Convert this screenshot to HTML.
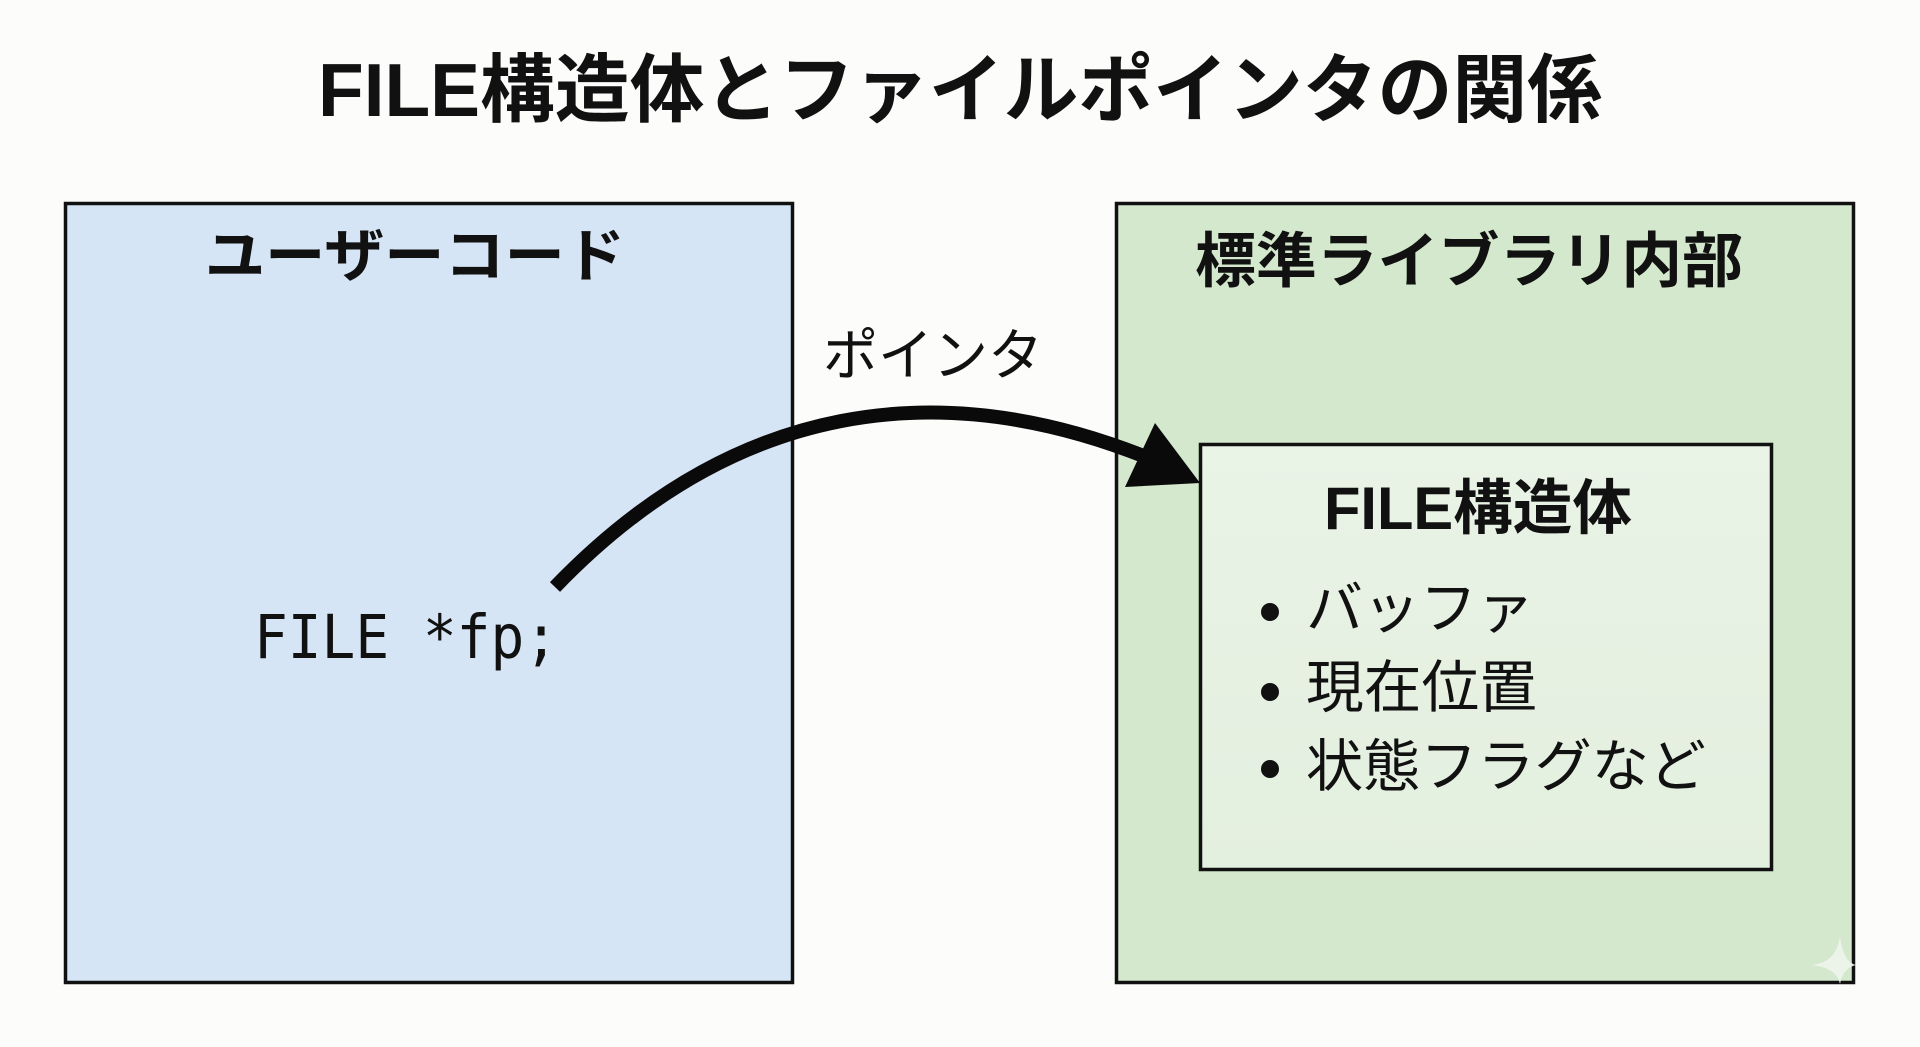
<!DOCTYPE html>
<html>
<head>
<meta charset="utf-8">
<style>
html,body{margin:0;padding:0;background:#fcfcfb;}
svg{display:block;}
</style>
</head>
<body>
<svg width="1920" height="1047" viewBox="0 0 1920 1047" xmlns="http://www.w3.org/2000/svg">
  <defs>
    <linearGradient id="gin" x1="0" y1="0" x2="0" y2="1">
      <stop offset="0" stop-color="#e9f3e6"/>
      <stop offset="1" stop-color="#e3efdf"/>
    </linearGradient>
  </defs>
  <rect x="0" y="0" width="1920" height="1047" fill="#fcfcfb"/>

  <!-- Title -->
  <text x="318" y="116" font-family="'Liberation Sans','Noto Sans CJK JP',sans-serif" font-weight="700" font-size="75" fill="#111" textLength="1284" lengthAdjust="spacingAndGlyphs">FILE構造体とファイルポインタの関係</text>

  <!-- Left box -->
  <rect x="65.5" y="203.5" width="727" height="779" fill="#d6e5f5" stroke="#111" stroke-width="3.5"/>
  <text x="205" y="276" font-family="'Liberation Sans','Noto Sans CJK JP',sans-serif" font-weight="700" font-size="58" fill="#111" textLength="420" lengthAdjust="spacingAndGlyphs">ユーザーコード</text>
  <text x="254" y="658" font-family="'DejaVu Sans Mono','Liberation Mono',monospace" font-size="61" fill="#111" textLength="304" lengthAdjust="spacingAndGlyphs">FILE *fp;</text>

  <!-- Right box -->
  <rect x="1116.5" y="203.5" width="737" height="779" fill="#d3e8cc" stroke="#111" stroke-width="3.5"/>
  <text x="1195" y="282" font-family="'Liberation Sans','Noto Sans CJK JP',sans-serif" font-weight="700" font-size="60" fill="#111" textLength="548" lengthAdjust="spacingAndGlyphs">標準ライブラリ内部</text>

  <!-- Inner box -->
  <rect x="1200.5" y="444.5" width="571" height="425" fill="url(#gin)" stroke="#111" stroke-width="3.5"/>
  <text x="1324" y="529" font-family="'Liberation Sans','Noto Sans CJK JP',sans-serif" font-weight="700" font-size="60" fill="#111" textLength="308" lengthAdjust="spacingAndGlyphs">FILE構造体</text>

  <circle cx="1270" cy="612" r="9" fill="#111"/>
  <circle cx="1270" cy="692" r="9" fill="#111"/>
  <circle cx="1270" cy="769" r="9" fill="#111"/>
  <text x="1306" y="628" font-family="'Liberation Sans','Noto Sans CJK JP',sans-serif" font-size="57" fill="#111" textLength="228" lengthAdjust="spacingAndGlyphs">バッファ</text>
  <text x="1306" y="707" font-family="'Liberation Sans','Noto Sans CJK JP',sans-serif" font-size="57" fill="#111" textLength="231" lengthAdjust="spacingAndGlyphs">現在位置</text>
  <text x="1306" y="786" font-family="'Liberation Sans','Noto Sans CJK JP',sans-serif" font-size="57" fill="#111" textLength="400" lengthAdjust="spacingAndGlyphs">状態フラグなど</text>

  <!-- Arrow label -->
  <text x="823" y="375" font-family="'Liberation Sans','Noto Sans CJK JP',sans-serif" font-size="56" fill="#111" textLength="220" lengthAdjust="spacingAndGlyphs">ポインタ</text>

  <!-- Arrow -->
  <path d="M 555 587 C 735 400, 940 375, 1146 457" fill="none" stroke="#0a0a0a" stroke-width="14" stroke-linecap="butt"/>
  <polygon points="1155,423 1125,487 1200,483" fill="#0a0a0a"/>

  <!-- sparkle watermark -->
  <path d="M 1840 936 Q 1843 962 1856 965 Q 1843 968 1840 984 Q 1837 968 1812 965 Q 1837 962 1840 936 Z" fill="#eef5ec" opacity="0.9"/>
</svg>
</body>
</html>
